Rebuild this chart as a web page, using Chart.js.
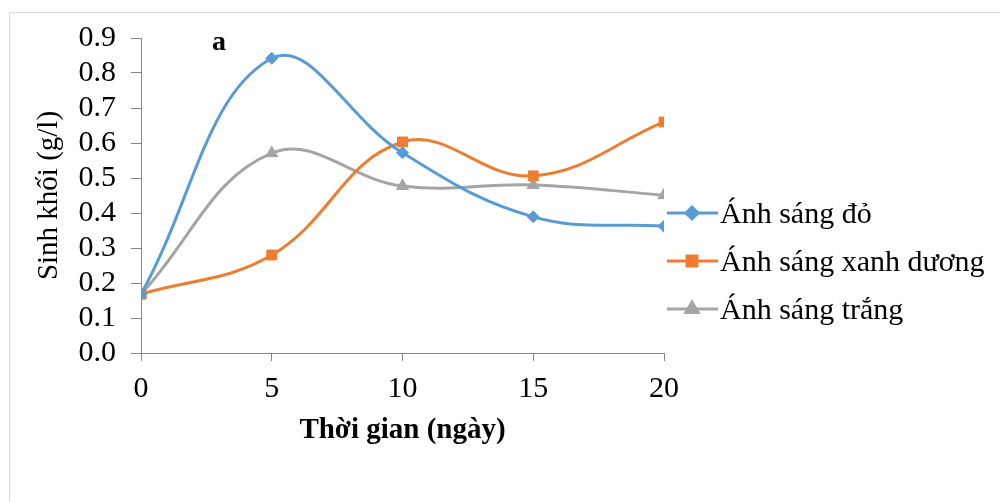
<!DOCTYPE html>
<html>
<head>
<meta charset="utf-8">
<script src="https://cdn.jsdelivr.net/npm/chart.js@4"></script>
<style>
  body { margin: 0; background: #fff; }
  canvas { display: block; }
</style>
</head>
<body>
<canvas id="chart" width="1000" height="502"></canvas>
<script>
const days = [0, 5, 10, 15, 20];
const redLight = [0.168, 0.842, 0.572, 0.389, 0.362];
const blueLight = [0.168, 0.280, 0.603, 0.506, 0.660];
const whiteLight = [0.168, 0.571, 0.477, 0.480, 0.451];
const seriesNames = ['Ánh sáng đỏ', 'Ánh sáng xanh dương', 'Ánh sáng trắng'];
const yTitle = 'Sinh khối (g/l)';
const xTitle = 'Thời gian (ngày)';
const panelLabel = 'a';

const serif = '"Liberation Serif", "Times New Roman", serif';
const axisGray = '#868686';

const toPoints = vals => vals.map((v, i) => ({ x: days[i], y: v }));

const makeSet = (label, vals, color, style, radius) => ({
    label: label,
    data: toPoints(vals),
    borderColor: color,
    backgroundColor: color,
    borderWidth: 3,
    pointStyle: style,
    pointRadius: radius,
    pointHoverRadius: radius,
    pointBorderWidth: 1,
    tension: 0.4,
    fill: false
});

// frame, panel letter and legend with line + marker
const extras = {
    id: 'extras',
    afterDraw(chart) {
        const ctx = chart.ctx;
        ctx.save();
        ctx.strokeStyle = '#d9d9d9';
        ctx.lineWidth = 1;
        ctx.beginPath();
        ctx.moveTo(9.5, 502);
        ctx.lineTo(9.5, 12.5);
        ctx.lineTo(1000, 12.5);
        ctx.stroke();

        ctx.fillStyle = '#000';
        ctx.font = 'bold 28px ' + serif;
        ctx.textAlign = 'left';
        ctx.textBaseline = 'alphabetic';
        ctx.fillText(panelLabel, 212, 50);

        const rows = [213, 261, 309];
        chart.data.datasets.forEach((ds, i) => {
            const y = rows[i];
            ctx.strokeStyle = ds.borderColor;
            ctx.lineWidth = 3;
            ctx.beginPath();
            ctx.moveTo(667, y);
            ctx.lineTo(718, y);
            ctx.stroke();
            ctx.fillStyle = ds.backgroundColor;
            Chart.helpers.drawPoint(ctx, {
                pointStyle: ds.pointStyle,
                radius: ds.pointRadius,
                borderWidth: 1,
                rotation: 0
            }, 692, y);
            ctx.fillStyle = '#000';
            ctx.font = '30px ' + serif;
            ctx.textBaseline = 'middle';
            ctx.fillText(ds.label, 720, y + 2);
        });
        ctx.restore();
    }
};

new Chart(document.getElementById('chart').getContext('2d'), {
    type: 'line',
    data: {
        datasets: [
            makeSet(seriesNames[0], redLight, '#5B9BD5', 'rectRot', 6),
            makeSet(seriesNames[1], blueLight, '#ED7D31', 'rect', 7),
            makeSet(seriesNames[2], whiteLight, '#A5A5A5', 'triangle', 7)
        ]
    },
    options: {
        responsive: false,
        animation: false,
        layout: { padding: { left: 0, right: 336, top: 38, bottom: 0 } },
        plugins: {
            legend: { display: false },
            tooltip: { enabled: false }
        },
        scales: {
            x: {
                type: 'linear',
                min: 0,
                max: 20,
                afterFit: s => { s.height = 149; },
                ticks: {
                    stepSize: 5,
                    padding: 10,
                    color: '#000',
                    font: { family: serif, size: 30 },
                    maxRotation: 0,
                    autoSkip: false
                },
                grid: { drawOnChartArea: false, drawTicks: true, tickLength: 8, color: axisGray },
                border: { color: axisGray, width: 1 },
                title: {
                    display: true,
                    text: xTitle,
                    color: '#000',
                    font: { family: serif, size: 29, weight: 'bold' },
                    padding: { top: 0, bottom: 54 }
                }
            },
            y: {
                min: 0,
                max: 0.9,
                afterFit: s => { s.width = 141; },
                ticks: {
                    stepSize: 0.1,
                    padding: 15,
                    autoSkip: false,
                    color: '#000',
                    font: { family: serif, size: 30 },
                    callback: v => v.toFixed(1)
                },
                grid: { drawOnChartArea: false, drawTicks: true, tickLength: 10, color: axisGray },
                border: { color: axisGray, width: 1 },
                title: {
                    display: true,
                    text: yTitle,
                    color: '#000',
                    font: { family: serif, size: 29 },
                    padding: { top: 32, bottom: 0 }
                }
            }
        }
    },
    plugins: [extras]
});
</script>
</body>
</html>
